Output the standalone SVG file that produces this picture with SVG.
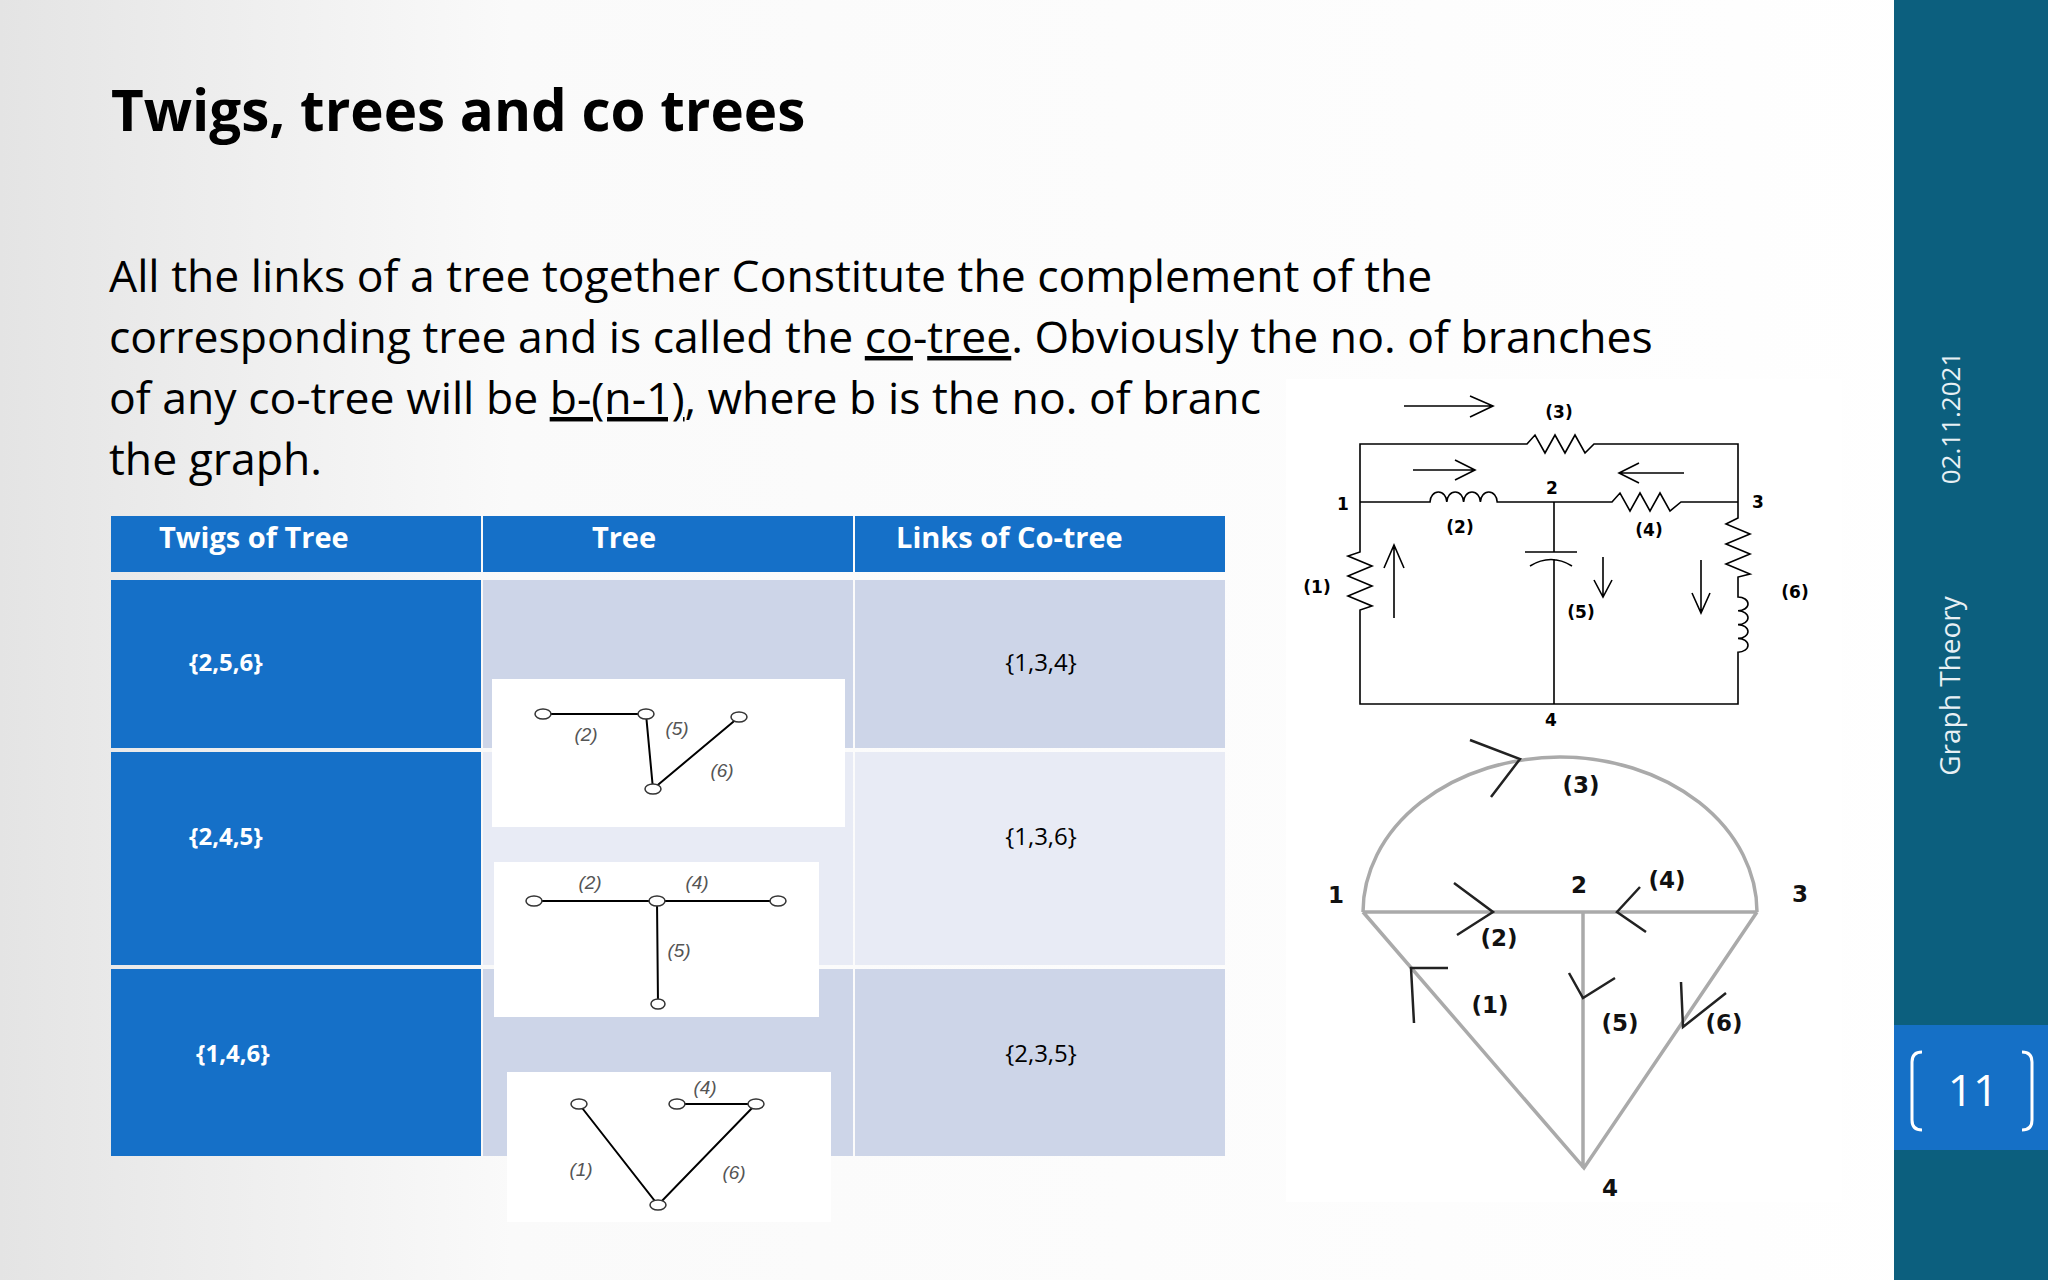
<svg xmlns="http://www.w3.org/2000/svg" width="2048" height="1280" viewBox="0 0 2048 1280">
<defs>
<linearGradient id="bg" x1="0" y1="0" x2="1" y2="0"><stop offset="0" stop-color="#e4e4e4"/><stop offset="0.25" stop-color="#fafafa"/><stop offset="1" stop-color="#ffffff"/></linearGradient>
</defs>
<style>
.t{font-family:"Open Sans",sans-serif;fill:#000}
.hd{font-family:"Open Sans",sans-serif;font-weight:bold;font-size:29px;fill:#fff}
.c1{font-family:"Open Sans",sans-serif;font-weight:bold;font-size:24px;fill:#fff}
.c3{font-family:"Open Sans",sans-serif;font-size:24px;fill:#000;text-anchor:middle}
.tl{font-family:"Liberation Sans",sans-serif;font-style:italic;font-size:19px;fill:#555;text-anchor:middle}
.w{stroke:#000;stroke-width:1.6;fill:none}
.g{stroke:#aaa;stroke-width:3.5;fill:none}
.ga{stroke:#222;stroke-width:2.5;fill:none}
.cl{font-family:"DejaVu Sans",sans-serif;font-weight:bold;font-size:17px;fill:#000;text-anchor:middle}
.gl{font-family:"DejaVu Sans",sans-serif;font-weight:bold;font-size:23px;fill:#111;text-anchor:middle}
.tw{stroke:#000;stroke-width:2;fill:none}
.nd{fill:#fff;stroke:#333;stroke-width:1.5}
</style>
<rect width="2048" height="1280" fill="url(#bg)"/>
<g id="sidebar">
<rect x="1894" y="0" width="154" height="1280" fill="#0c5f7e"/>
<rect x="1894" y="1025" width="154" height="125" fill="#1570c6"/>
<text x="1953" y="418" transform="rotate(-90 1953 418)" text-anchor="middle" dominant-baseline="middle" font-family="Open Sans,sans-serif" font-size="26" fill="#e8f0f4">02.11.2021</text>
<text x="1953" y="686" transform="rotate(-90 1953 686)" text-anchor="middle" dominant-baseline="middle" font-family="Open Sans,sans-serif" font-size="28" fill="#e8f0f4">Graph Theory</text>
<path d="M1922,1052 q-10,0 -10,10 v58 q0,10 10,10" stroke="#fff" stroke-width="3" fill="none"/>
<path d="M2022,1052 q10,0 10,10 v58 q0,10 -10,10" stroke="#fff" stroke-width="3" fill="none"/>
<text x="1973" y="1106" text-anchor="middle" font-family="Open Sans,sans-serif" font-size="44" fill="#fff">11</text>
</g>
<g id="title"><text x="111" y="131" class="t" font-size="56.5" font-weight="bold">Twigs, trees and co trees</text></g>
<g id="paragraph" class="t" font-size="44.5">
<text x="109" y="292">All the links of a tree together Constitute the complement of the</text>
<text x="109" y="353">corresponding tree and is called the <tspan text-decoration="underline">co</tspan>-<tspan text-decoration="underline">tree</tspan>. Obviously the no. of branches</text>
<text x="109" y="414">of any co-tree will be <tspan text-decoration="underline">b-(n-1)</tspan>, where b is the no. of branc</text>
<text x="109" y="475">the graph.</text>
</g>
<g id="table">
<rect x="111" y="516" width="370" height="56" fill="#1570c8"/>
<rect x="483" y="516" width="370" height="56" fill="#1570c8"/>
<rect x="855" y="516" width="370" height="56" fill="#1570c8"/>
<rect x="111" y="580" width="370" height="168" fill="#1570c8"/>
<rect x="111" y="752" width="370" height="213" fill="#1570c8"/>
<rect x="111" y="969" width="370" height="187" fill="#1570c8"/>
<rect x="483" y="580" width="370" height="168" fill="#cdd5e8"/>
<rect x="855" y="580" width="370" height="168" fill="#cdd5e8"/>
<rect x="483" y="752" width="370" height="213" fill="#e8ebf5"/>
<rect x="855" y="752" width="370" height="213" fill="#e8ebf5"/>
<rect x="483" y="969" width="370" height="187" fill="#cdd5e8"/>
<rect x="855" y="969" width="370" height="187" fill="#cdd5e8"/>
<text x="159" y="548" class="hd">Twigs of Tree</text>
<text x="624" y="548" class="hd" text-anchor="middle">Tree</text>
<text x="896" y="548" class="hd">Links of Co-tree</text>
<text x="189" y="671" class="c1">{2,5,6}</text>
<text x="189" y="845" class="c1">{2,4,5}</text>
<text x="196" y="1062" class="c1">{1,4,6}</text>
<text x="1041" y="671" class="c3">{1,3,4}</text>
<text x="1041" y="845" class="c3">{1,3,6}</text>
<text x="1041" y="1062" class="c3">{2,3,5}</text>
</g>
<g id="tree1">
<rect x="492" y="679" width="353" height="148" fill="#fff"/>
<path class="tw" d="M543,714 H646 L653,789 L739,717"/>
<ellipse class="nd" cx="543" cy="714" rx="8" ry="5"/><ellipse class="nd" cx="646" cy="714" rx="8" ry="5"/><ellipse class="nd" cx="739" cy="717" rx="8" ry="5"/><ellipse class="nd" cx="653" cy="789" rx="8" ry="5"/>
<text x="586" y="741" class="tl">(2)</text><text x="677" y="735" class="tl">(5)</text><text x="722" y="777" class="tl">(6)</text>
</g>
<g id="tree2">
<rect x="494" y="862" width="325" height="155" fill="#fff"/>
<path class="tw" d="M534,901 H778 M657,901 L658,1004"/>
<ellipse class="nd" cx="534" cy="901" rx="8" ry="5"/><ellipse class="nd" cx="657" cy="901" rx="8" ry="5"/><ellipse class="nd" cx="778" cy="901" rx="8" ry="5"/><ellipse class="nd" cx="658" cy="1004" rx="7" ry="5"/>
<text x="590" y="889" class="tl">(2)</text><text x="697" y="889" class="tl">(4)</text><text x="679" y="957" class="tl">(5)</text>
</g>
<g id="tree3">
<rect x="507" y="1072" width="324" height="150" fill="#fff"/>
<path class="tw" d="M579,1104 L658,1205 L756,1104 H677"/>
<ellipse class="nd" cx="579" cy="1104" rx="8" ry="5"/><ellipse class="nd" cx="677" cy="1104" rx="8" ry="5"/><ellipse class="nd" cx="756" cy="1104" rx="8" ry="5"/><ellipse class="nd" cx="658" cy="1205" rx="8" ry="5"/>
<text x="705" y="1094" class="tl">(4)</text><text x="581" y="1176" class="tl">(1)</text><text x="734" y="1179" class="tl">(6)</text>
</g>
<rect x="1286" y="379" width="556" height="823" fill="#fff"/>
<g id="circuit">
<path class="w" d="M1360,704 V610 l12,-4 l-24,-10 l24,-10 l-24,-10 l24,-10 l-24,-10 l12,-4 V502 V444 H1527 l8,-9 l10,18 l10,-18 l10,18 l10,-18 l10,18 l9,-9 H1738 V518 l-12,6 l24,10 l-24,10 l24,10 l-24,10 l24,10 l-12,3 V597 a10,6.9 0 0 1 0,13.8 a10,6.9 0 0 1 0,13.8 a10,6.9 0 0 1 0,13.8 a10,6.9 0 0 1 0,13.8 V704 Z"/>
<path class="w" d="M1360,502 H1430 a8.4,10 0 0 1 16.8,0 a8.4,10 0 0 1 16.8,0 a8.4,10 0 0 1 16.8,0 a8.4,10 0 0 1 16.8,0 H1612 l8,-9 l10,18 l10,-18 l10,18 l10,-18 l10,18 l11,-9 H1738"/>
<path class="w" d="M1554,502 V552 M1525,552 H1577 M1530,566 Q1551,553 1572,566 M1554,559 V704"/>
<path class="w" d="M1404,406 H1493 M1470,396 L1493,406 L1470,417 M1413,470 H1475 M1455,460 L1475,470 L1455,480 M1684,473 H1619 M1639,463 L1619,473 L1639,483 M1394,618 V545 M1384,568 L1394,545 L1404,568 M1603,557 V597 M1594,580 L1603,597 L1612,580 M1701,560 V613 M1692,593 L1701,613 L1710,593"/>
<text x="1559" y="418" class="cl">(3)</text><text x="1552" y="494" class="cl">2</text><text x="1343" y="510" class="cl">1</text><text x="1758" y="508" class="cl">3</text>
<text x="1460" y="533" class="cl">(2)</text><text x="1649" y="536" class="cl">(4)</text><text x="1317" y="593" class="cl">(1)</text><text x="1581" y="618" class="cl">(5)</text><text x="1795" y="598" class="cl">(6)</text><text x="1551" y="726" class="cl">4</text>
</g>
<g id="graph">
<path class="g" d="M1363,912 A197,155 0 0 1 1757,912 M1363,912 H1757 M1583,912 V1168 M1363,912 L1584,1168 L1757,912"/>
<path class="ga" d="M1470,740 L1520,759 L1491,797 M1454,883 L1493,912 L1457,935 M1640,887 L1617,912 L1646,932 M1448,968 H1411 L1414,1023 M1569,973 L1583,998 L1615,978 M1681,982 L1683,1027 L1726,993"/>
<text x="1336" y="903" class="gl">1</text><text x="1579" y="893" class="gl">2</text><text x="1800" y="902" class="gl">3</text>
<text x="1581" y="793" class="gl">(3)</text><text x="1667" y="888" class="gl">(4)</text><text x="1499" y="946" class="gl">(2)</text><text x="1490" y="1013" class="gl">(1)</text><text x="1620" y="1031" class="gl">(5)</text><text x="1724" y="1031" class="gl">(6)</text><text x="1610" y="1196" class="gl">4</text>
</g>
</svg>
